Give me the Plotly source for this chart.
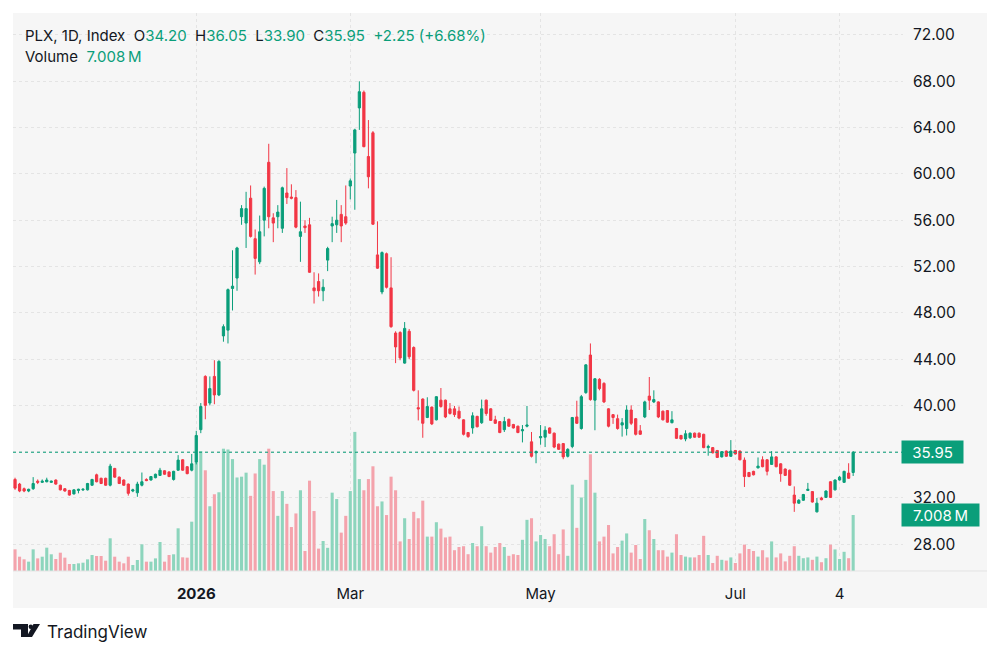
import plotly.graph_objects as go

# daily bars, oldest first
opens = [33.6, 33.2, 32.8, 32.6, 32.8, 33.45, 33.35, 33.4, 33.35, 33.55,
         33.1, 32.8, 32.65, 32.35, 32.65, 32.7, 32.7, 33.1, 34.0, 33.7,
         33.7, 33.1, 34.55, 33.8, 33.55, 33.2, 32.6, 32.45, 33.1, 33.6,
         33.55, 33.75, 33.95, 34.35, 34.25, 33.6, 34.4, 35.3, 34.7, 34.4,
         35.1, 37.9, 42.5, 40.2, 42.5, 40.9, 46.0, 46.5, 50.1, 51.0,
         56.3, 55.75, 57.9, 54.4, 52.4, 56.0, 61.0, 56.2, 56.3, 55.3,
         58.35, 58.0, 57.95, 54.6, 55.5, 55.6, 50.15, 50.7, 49.9, 52.55,
         55.5, 55.6, 56.5, 56.3, 58.95, 61.8, 65.7, 67.05, 61.5, 63.55,
         53.0, 49.8, 53.1, 50.15, 46.25, 46.3, 43.65, 46.4, 45.0, 39.8,
         40.55, 38.95, 39.85, 38.75, 40.45, 40.45, 39.7, 39.7, 39.5, 38.75,
         37.65, 38.05, 39.05, 38.5, 40.45, 39.7, 38.75, 38.6, 37.9, 38.8,
         38.35, 38.2, 37.8, 38.2, 36.85, 35.9, 37.2, 37.25, 38.05, 37.6,
         36.65, 36.7, 35.6, 36.45, 39.0, 38.0, 41.1, 44.35, 40.45, 42.25,
         41.9, 39.7, 39.2, 38.85, 38.3, 38.0, 39.6, 38.85, 37.8, 39.0,
         40.8, 40.3, 40.3, 39.5, 39.55, 38.5, 38.0, 37.4, 37.1, 37.2,
         37.6, 37.6, 37.5, 36.35, 36.35, 36.1, 35.55, 36.05, 35.6, 36.1,
         36.05, 35.27, 34.2, 34.3, 34.6, 35.3, 35.3, 34.9, 35.55, 34.95,
         34.5, 34.4, 32.25, 31.55, 31.8, 32.65, 32.55, 30.8, 32.0, 32.05,
         33.4, 32.7, 33.55, 33.35, 34.15, 34.2]
highs = [33.75, 33.3, 32.9, 32.8, 33.8, 33.6, 33.6, 33.75, 33.5, 33.6,
         33.15, 32.85, 32.7, 32.75, 32.8, 32.85, 33.3, 33.65, 34.1, 33.75,
         33.75, 34.95, 34.6, 33.85, 33.6, 33.25, 32.8, 33.4, 34.2, 33.7,
         33.9, 34.1, 34.6, 34.4, 34.3, 34.35, 35.7, 35.35, 34.75, 35.8,
         37.8, 40.2, 42.6, 42.5, 43.9, 43.9, 47.0, 50.1, 53.4, 53.7,
         57.3, 58.45, 59.0, 55.2, 56.4, 58.9, 62.6, 56.6, 57.3, 58.9,
         60.5, 59.1, 58.6, 57.6, 56.0, 56.2, 51.5, 51.4, 50.9, 53.7,
         56.3, 57.75, 57.3, 59.0, 59.6, 63.9, 68.0, 67.2, 64.65, 63.7,
         55.9, 53.3, 53.2, 52.8, 46.4, 46.4, 47.2, 46.6, 45.1, 41.3,
         40.6, 40.7, 39.9, 40.8, 41.5, 40.5, 40.2, 39.95, 39.9, 38.8,
         37.7, 39.4, 39.1, 40.5, 40.5, 39.75, 39.1, 38.65, 39.0, 38.85,
         38.4, 38.25, 38.3, 39.95, 37.7, 36.1, 38.3, 38.2, 38.1, 37.65,
         36.7, 36.75, 36.3, 39.0, 40.4, 40.9, 43.55, 45.35, 42.35, 42.35,
         42.0, 39.75, 39.25, 39.2, 38.9, 40.0, 40.0, 38.9, 38.3, 40.4,
         42.45, 41.3, 40.35, 39.55, 39.6, 39.5, 38.05, 37.45, 37.85, 37.65,
         37.65, 37.65, 37.55, 36.6, 36.4, 36.15, 36.05, 36.1, 37.0, 36.15,
         36.1, 35.5, 34.25, 34.35, 35.5, 35.6, 35.35, 36.05, 35.6, 35.0,
         34.55, 34.45, 33.0, 31.9, 32.35, 33.3, 32.6, 32.0, 32.1, 32.65,
         33.45, 33.6, 33.9, 34.35, 35.0, 36.05]
lows = [32.7, 32.5, 32.5, 32.5, 32.7, 33.2, 33.3, 33.35, 33.3, 33.15,
        32.65, 32.55, 32.2, 32.3, 32.4, 32.6, 32.65, 33.05, 33.35, 33.2,
        33.05, 33.0, 33.75, 33.2, 33.05, 32.2, 32.5, 32.1, 33.0, 33.45,
        33.5, 33.7, 33.9, 34.0, 33.8, 33.5, 34.35, 34.35, 34.05, 34.3,
        34.9, 37.6, 38.8, 40.0, 40.1, 40.8, 45.5, 45.35, 48.2, 49.9,
        55.6, 53.6, 54.5, 51.3, 52.2, 54.6, 55.3, 54.1, 55.3, 54.9,
        57.4, 57.8, 55.3, 52.4, 54.9, 51.45, 48.8, 49.4, 49.0, 51.6,
        54.1, 54.9, 54.1, 55.6, 57.8, 56.9, 63.8, 62.3, 58.75, 55.6,
        51.8, 49.6, 50.1, 46.7, 43.65, 43.9, 43.6, 44.0, 41.2, 38.7,
        37.2, 38.9, 38.3, 38.7, 39.8, 38.9, 39.2, 39.0, 38.8, 37.4,
        37.2, 37.55, 38.1, 38.4, 39.1, 38.65, 38.4, 37.6, 37.7, 38.15,
        38.0, 37.6, 36.8, 38.1, 35.5, 35.0, 36.6, 36.4, 37.55, 36.3,
        36.15, 35.35, 35.5, 36.3, 38.4, 37.9, 41.0, 40.4, 37.85, 41.3,
        40.2, 38.1, 38.4, 37.9, 37.3, 37.4, 38.3, 37.4, 37.45, 38.9,
        39.6, 40.2, 38.9, 38.7, 38.5, 38.45, 37.1, 37.05, 36.9, 37.1,
        37.2, 37.2, 36.3, 35.65, 35.85, 35.45, 35.5, 35.55, 35.55, 35.75,
        35.25, 32.95, 33.8, 33.95, 34.55, 34.65, 33.95, 34.85, 34.65, 33.4,
        33.9, 33.05, 30.8, 31.5, 31.75, 32.6, 31.6, 30.75, 31.8, 32.0,
        32.0, 32.65, 33.5, 33.3, 33.65, 33.9]
closes = [32.85, 32.6, 32.6, 32.75, 33.25, 33.35, 33.45, 33.55, 33.45, 33.2,
          32.7, 32.6, 32.25, 32.7, 32.75, 32.75, 33.25, 33.6, 33.4, 33.25,
          33.1, 34.75, 33.8, 33.25, 33.1, 32.4, 32.7, 33.2, 33.4, 33.5,
          33.85, 34.05, 34.4, 34.05, 33.85, 34.3, 35.27, 34.4, 34.1, 34.95,
          37.4, 39.9, 40.0, 41.45, 40.9, 43.8, 46.8, 50.0, 50.3, 53.6,
          57.0, 57.0, 54.6, 52.7, 55.0, 58.75, 56.3, 55.75, 56.7, 58.8,
          57.95, 57.9, 55.4, 55.0, 55.35, 51.5, 49.9, 49.9, 50.2, 53.55,
          55.7, 56.0, 55.5, 55.75, 59.4, 63.8, 67.1, 62.35, 59.75, 55.65,
          51.85, 53.2, 50.2, 46.8, 45.05, 44.1, 46.65, 44.2, 41.3, 39.7,
          38.45, 39.9, 38.4, 40.75, 39.9, 39.0, 39.3, 39.2, 38.9, 37.5,
          37.3, 39.1, 38.15, 39.7, 39.3, 38.7, 38.45, 37.65, 38.6, 38.2,
          38.05, 37.65, 37.9, 38.3, 35.6, 36.0, 37.3, 37.85, 37.6, 36.4,
          36.2, 35.55, 36.2, 38.95, 38.45, 40.75, 43.5, 40.5, 42.3, 41.45,
          40.3, 38.2, 38.95, 38.0, 38.5, 39.6, 38.45, 37.5, 37.5, 40.3,
          40.45, 40.5, 39.0, 38.75, 38.55, 38.75, 37.15, 37.1, 37.55, 37.6,
          37.25, 37.25, 36.35, 36.45, 35.9, 35.5, 36.0, 35.6, 36.05, 35.8,
          35.3, 33.85, 33.85, 34.0, 34.75, 34.7, 34.3, 35.55, 34.7, 34.1,
          33.95, 33.1, 31.55, 31.8, 32.3, 32.75, 31.65, 31.55, 31.85, 32.6,
          32.05, 33.55, 33.8, 34.3, 33.7, 35.95]
volumes = [2.71, 1.79, 1.46, 1.17, 2.71, 1.58, 1.79, 2.92, 2.09, 1.5,
           2.29, 1.67, 0.88, 0.88, 0.96, 1.04, 1.46, 2.0, 1.88, 1.88,
           1.29, 4.09, 1.79, 1.17, 0.96, 1.79, 0.75, 1.38, 3.34, 1.17,
           1.17, 1.58, 3.63, 1.17, 2.0, 2.09, 5.34, 1.71, 1.67, 6.17,
           13.6, 15.0, 12.6, 8.1, 9.6, 9.85, 15.3, 15.2, 14.0, 11.7,
           11.8, 12.3, 9.4, 12.2, 14.0, 13.3, 15.3, 10.0, 6.9, 10.0,
           8.4, 5.5, 7.2, 10.1, 2.5, 11.3, 7.5, 2.8, 3.75, 2.9,
           9.8, 9.0, 4.8, 6.9, 10.0, 17.4, 11.5, 10.1, 11.5, 13.1,
           8.1, 8.7, 7.0, 11.8, 10.1, 3.7, 6.6, 4.0, 7.4, 6.6,
           8.8, 4.3, 4.3, 6.1, 5.3, 4.2, 4.3, 2.6, 3.0, 3.1,
           2.1, 3.5, 3.1, 5.6, 3.1, 2.3, 3.0, 3.5, 3.0, 1.9,
           2.1, 2.0, 3.9, 6.4, 6.6, 3.7, 4.5, 4.0, 3.1, 4.6,
           2.1, 5.2, 1.9, 10.8, 5.4, 9.2, 11.4, 14.6, 9.8, 3.7,
           4.3, 5.75, 2.2, 3.0, 3.8, 4.7, 2.3, 3.25, 1.5, 6.5,
           5.1, 4.0, 2.6, 2.6, 1.8, 2.3, 4.6, 2.0, 1.8, 1.7,
           1.7, 2.0, 4.4, 2.0, 1.0, 1.9, 1.4, 1.3, 1.7, 1.0,
           2.2, 3.3, 2.75, 2.5, 1.8, 2.6, 1.7, 3.7, 1.7, 2.2,
           1.2, 1.9, 3.1, 1.9, 1.6, 1.7, 1.4, 1.8, 1.1, 1.6,
           3.3, 2.7, 1.5, 2.4, 1.6, 7.008]

# time axis labels (bar index where each label sits)
tick_bars = [40, 74, 116, 159, 182]
tick_labels = ['<b>2026</b>', 'Mar', 'May', 'Jul', '4']
price_ticks = [28, 32, 36, 40, 44, 48, 52, 56, 60, 64, 68, 72]

GREEN = '#0a9e7a'
RED = '#f23645'
VOL_UP = '#8dd5bd'
VOL_DOWN = '#f4a3ac'
TEXT = '#131722'
FONT = 'Inter, Roboto, sans-serif'

# page has an 8px body margin, so the figure is drawn that much smaller
OFF = 8
W, H = 1000 - OFF, 655 - OFF
# plot area in page pixels, used for the decorations around the chart
L, R, T, B = 13, 903, 13, 571


def px(x):
    return (x - L) / (R - L)


def py(y):
    return (B - y) / (B - T)


bars = list(range(len(opens)))
vol_colors = [VOL_UP if c >= o else VOL_DOWN for o, c in zip(opens, closes)]

fig = go.Figure()

# volume goes on the base axis so the candles are drawn on top of it
fig.add_trace(go.Bar(
    x=bars, y=volumes, marker=dict(color=vol_colors, line=dict(width=0)),
    width=0.68, yaxis='y', hoverinfo='skip', showlegend=False
))

fig.add_trace(go.Candlestick(
    x=bars, open=opens, high=highs, low=lows, close=closes,
    increasing=dict(line=dict(color=GREEN, width=1), fillcolor=GREEN),
    decreasing=dict(line=dict(color=RED, width=1), fillcolor=RED),
    whiskerwidth=0, yaxis='y2', showlegend=False
))

last_o, last_h, last_l, last_c = opens[-1], highs[-1], lows[-1], closes[-1]
chg = last_c - closes[-2]
pct = chg / closes[-2] * 100
col = GREEN if chg >= 0 else RED
sp = '\u00a0\u00a0'


def val(v):
    return f"<span style='color:{col}'>{v}</span>"


line1 = (f"PLX, 1D, Index{sp}O{val(f'{last_o:.2f}')}{sp}H{val(f'{last_h:.2f}')}"
         f"{sp}L{val(f'{last_l:.2f}')}{sp}C{val(f'{last_c:.2f}')}"
         f"{sp}{val(f'{chg:+.2f} ({pct:+.2f}%)')}")
line2 = f"Volume{sp}<span style='color:{GREEN}'>{volumes[-1]:.3f}\u2009M</span>"

# the last price badge covers its own tick label, as on the original
price_text = ['' if abs(p - last_c) < 1.5 else f'{p:.2f}' for p in price_ticks]

annotations = [
    dict(text=line1, x=px(23), y=py(35), xref='paper', yref='paper',
         xanchor='left', yanchor='middle', showarrow=False,
         font=dict(size=15, color=TEXT, family=FONT)),
    dict(text=line2, x=px(23), y=py(57), xref='paper', yref='paper',
         xanchor='left', yanchor='middle', showarrow=False,
         font=dict(size=15, color=TEXT, family=FONT)),
    # last price badge
    dict(text=f'{last_c:.2f}', x=px(901), y=last_c, xref='paper', yref='y2',
         xanchor='left', yanchor='middle', showarrow=False, bgcolor=GREEN,
         width=55, height=16, borderpad=3,
         font=dict(size=15, color='white', family=FONT)),
    # last volume badge
    dict(text=f'{volumes[-1]:.3f}\u2009M', x=px(901), y=volumes[-1], xref='paper', yref='y',
         xanchor='left', yanchor='middle', showarrow=False, bgcolor=GREEN,
         width=71, height=16, borderpad=3,
         font=dict(size=15, color='white', family=FONT)),
    dict(text='TradingView', x=px(45), y=py(632), xref='paper', yref='paper',
         xanchor='left', yanchor='middle', showarrow=False,
         font=dict(size=17, color=TEXT, family=FONT)),
]

shapes = [
    # grey chart panel
    dict(type='rect', xref='paper', yref='paper', x0=px(13), x1=px(987),
         y0=py(608), y1=py(13), fillcolor='#f6f6f6', line=dict(width=0), layer='below'),
    # separator above the time scale
    dict(type='line', xref='paper', yref='paper', x0=px(13), x1=px(987),
         y0=0, y1=0, line=dict(color='#e3e3e3', width=1)),
    # last price line
    dict(type='line', xref='paper', yref='y2', x0=0, x1=1, y0=last_c, y1=last_c,
         line=dict(color=GREEN, width=1, dash='dot')),
    # TradingView logo
    dict(type='path', xref='paper', yref='paper', fillcolor=TEXT, line=dict(width=0),
         path=f'M{px(13)},{py(624)} L{px(28)},{py(624)} L{px(28)},{py(637)} '
              f'L{px(21)},{py(637)} L{px(21)},{py(629.5)} L{px(13)},{py(629.5)} Z'),
    dict(type='circle', xref='paper', yref='paper', fillcolor=TEXT, line=dict(width=0),
         x0=px(28.6), x1=px(33), y0=py(628.9), y1=py(624.5)),
    dict(type='path', xref='paper', yref='paper', fillcolor=TEXT, line=dict(width=0),
         path=f'M{px(33.5)},{py(624)} L{px(40)},{py(624)} L{px(32)},{py(637)} '
              f'L{px(26.5)},{py(637)} Z'),
]

fig.update_layout(
    width=W, height=H,
    margin=dict(l=L - OFF, r=1000 - R, t=T - OFF, b=655 - B),
    paper_bgcolor='white', plot_bgcolor='rgba(0,0,0,0)',
    font=dict(family=FONT, color=TEXT),
    showlegend=False, hovermode=False,
    xaxis=dict(range=[-0.45, 196], tickvals=tick_bars, ticktext=tick_labels,
               showgrid=True, gridcolor='#e4e4e4', griddash='dot', gridwidth=1,
               zeroline=False, showline=False, ticks='', ticklabelstandoff=12,
               tickfont=dict(size=15, color=TEXT), rangeslider=dict(visible=False)),
    yaxis=dict(range=[0, 69.8], visible=False, showgrid=False, zeroline=False),
    yaxis2=dict(range=[25.69, 73.9], overlaying='y', side='right', tickvals=price_ticks,
                ticktext=price_text, showgrid=True, gridcolor='#e4e4e4', griddash='dot',
                zeroline=False, showline=False, ticks='', ticklabelstandoff=9,
                tickfont=dict(size=15.5, color=TEXT)),
    annotations=annotations,
    shapes=shapes,
)

fig.write_html('out.html')
